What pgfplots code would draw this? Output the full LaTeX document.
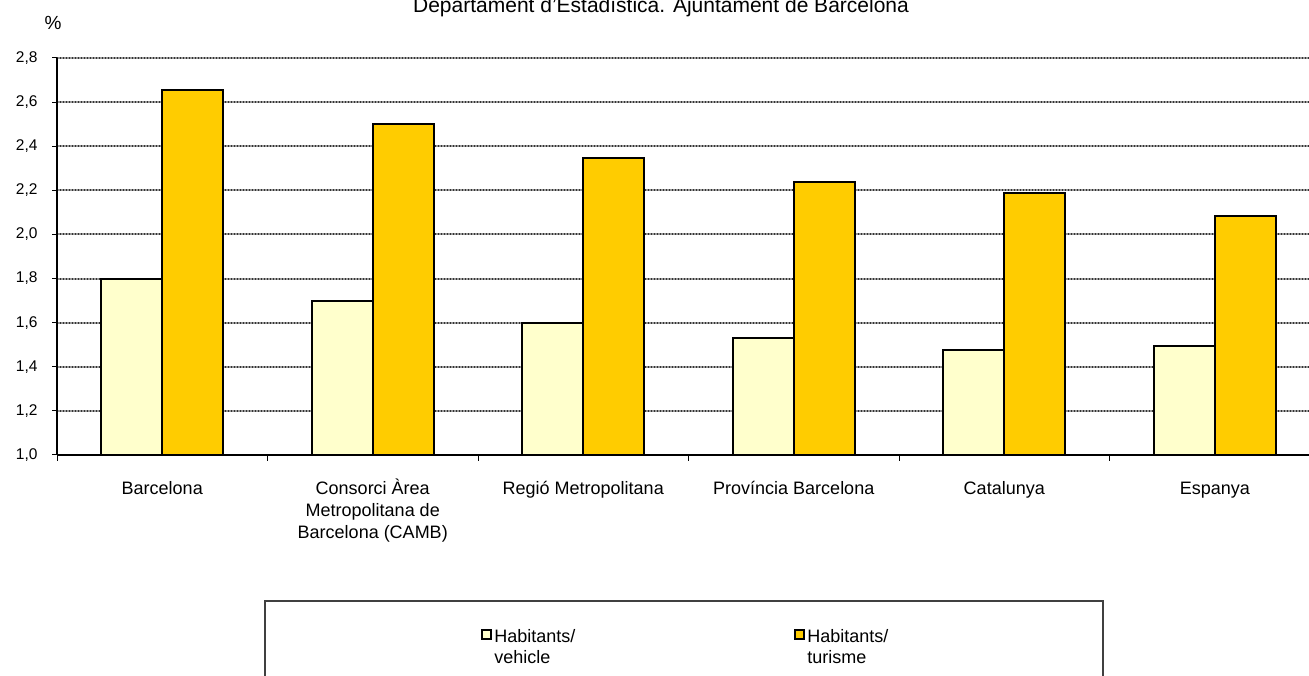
\documentclass[border=0pt]{standalone}
\usepackage{fontspec}
\setmainfont{Liberation Sans}
\usepackage{pgfplots}
\pgfplotsset{compat=1.18}
\definecolor{lightbar}{HTML}{FFFFCC}
\definecolor{darkbar}{HTML}{FFCC00}
\begin{document}
\begin{tikzpicture}[x=1bp,y=1bp]
\useasboundingbox (0,0) rectangle (1309,675);
\begin{axis}[
  at={(57bp,220bp)}, anchor=south west,
  scale only axis, width=1263bp, height=397bp,
  xmin=0.5, xmax=6.5, ymin=1, ymax=2.8,
  axis x line*=bottom, axis y line*=left,
  axis line style={line width=1.2bp, -},
  xtick={1,2,3,4,5,6},
  xticklabels={\vphantom{À}Barcelona,{\vphantom{À}Consorci Àrea\\Metropolitana de\\Barcelona (CAMB)},\vphantom{À}Regió Metropolitana,\vphantom{À}Província Barcelona,\vphantom{À}Catalunya,\vphantom{À}Espanya},
  minor xtick={0.5,1.5,2.5,3.5,4.5,5.5,6.5},
  major x tick style={draw=none},
  minor x tick style={line width=1bp, black},
  minor tick length=6bp,
  ytick={1.0,1.2,1.4,1.6,1.8,2.0,2.2,2.4,2.6,2.8},
  major y tick style={line width=1bp, black},
  major tick length=5bp,
  tick align=outside,
  ymajorgrids,
  major y grid style={draw=black!40, line width=2bp, postaction={draw=black!80, line width=2bp, dash pattern=on 1bp off 2bp}},
  yticklabel style={font=\fontsize{15.5bp}{18bp}\selectfont, xshift=-11bp, /pgf/number format/.cd, use comma, fixed, fixed zerofill, precision=1, assume math mode=true},
  xticklabel style={font=\fontsize{18bp}{22bp}\selectfont, align=center, anchor=north, yshift=-15bp},
  legend columns=2,
  legend style={draw=none, fill=none, at={(axis description cs:0.3335,-0.43)}, anchor=north west,
    font=\fontsize{18bp}{21bp}\selectfont, cells={align=left},
    /tikz/every even column/.append style={column sep=217bp}},
  legend image code/.code={\draw[#1, line width=2bp] (0bp,9bp) rectangle (9bp,18bp);},
  clip=false,
]
\addplot[ybar, bar width=0.2895, bar shift=-0.14475, fill=lightbar, draw=black, line width=2bp]
  coordinates {(1,1.80) (2,1.70) (3,1.60) (4,1.53) (5,1.475) (6,1.495)};
\addlegendentry{Habitants/\\vehicle}
\addplot[ybar, bar width=0.2895, bar shift=0.14475, fill=darkbar, draw=black, line width=2bp]
  coordinates {(1,2.655) (2,2.50) (3,2.345) (4,2.24) (5,2.19) (6,2.085)};
\addlegendentry{Habitants/\\turisme}
\end{axis}
\draw[black!75, line width=1.3bp] (265,74) rectangle (1103,-20);
\node[font=\fontsize{21bp}{25bp}\selectfont, anchor=base] at (661,662) {Departament d'Estadística. Ajuntament de Barcelona};
\node[font=\fontsize{19bp}{22bp}\selectfont] at (53,652) {\%};
\end{tikzpicture}
\end{document}
